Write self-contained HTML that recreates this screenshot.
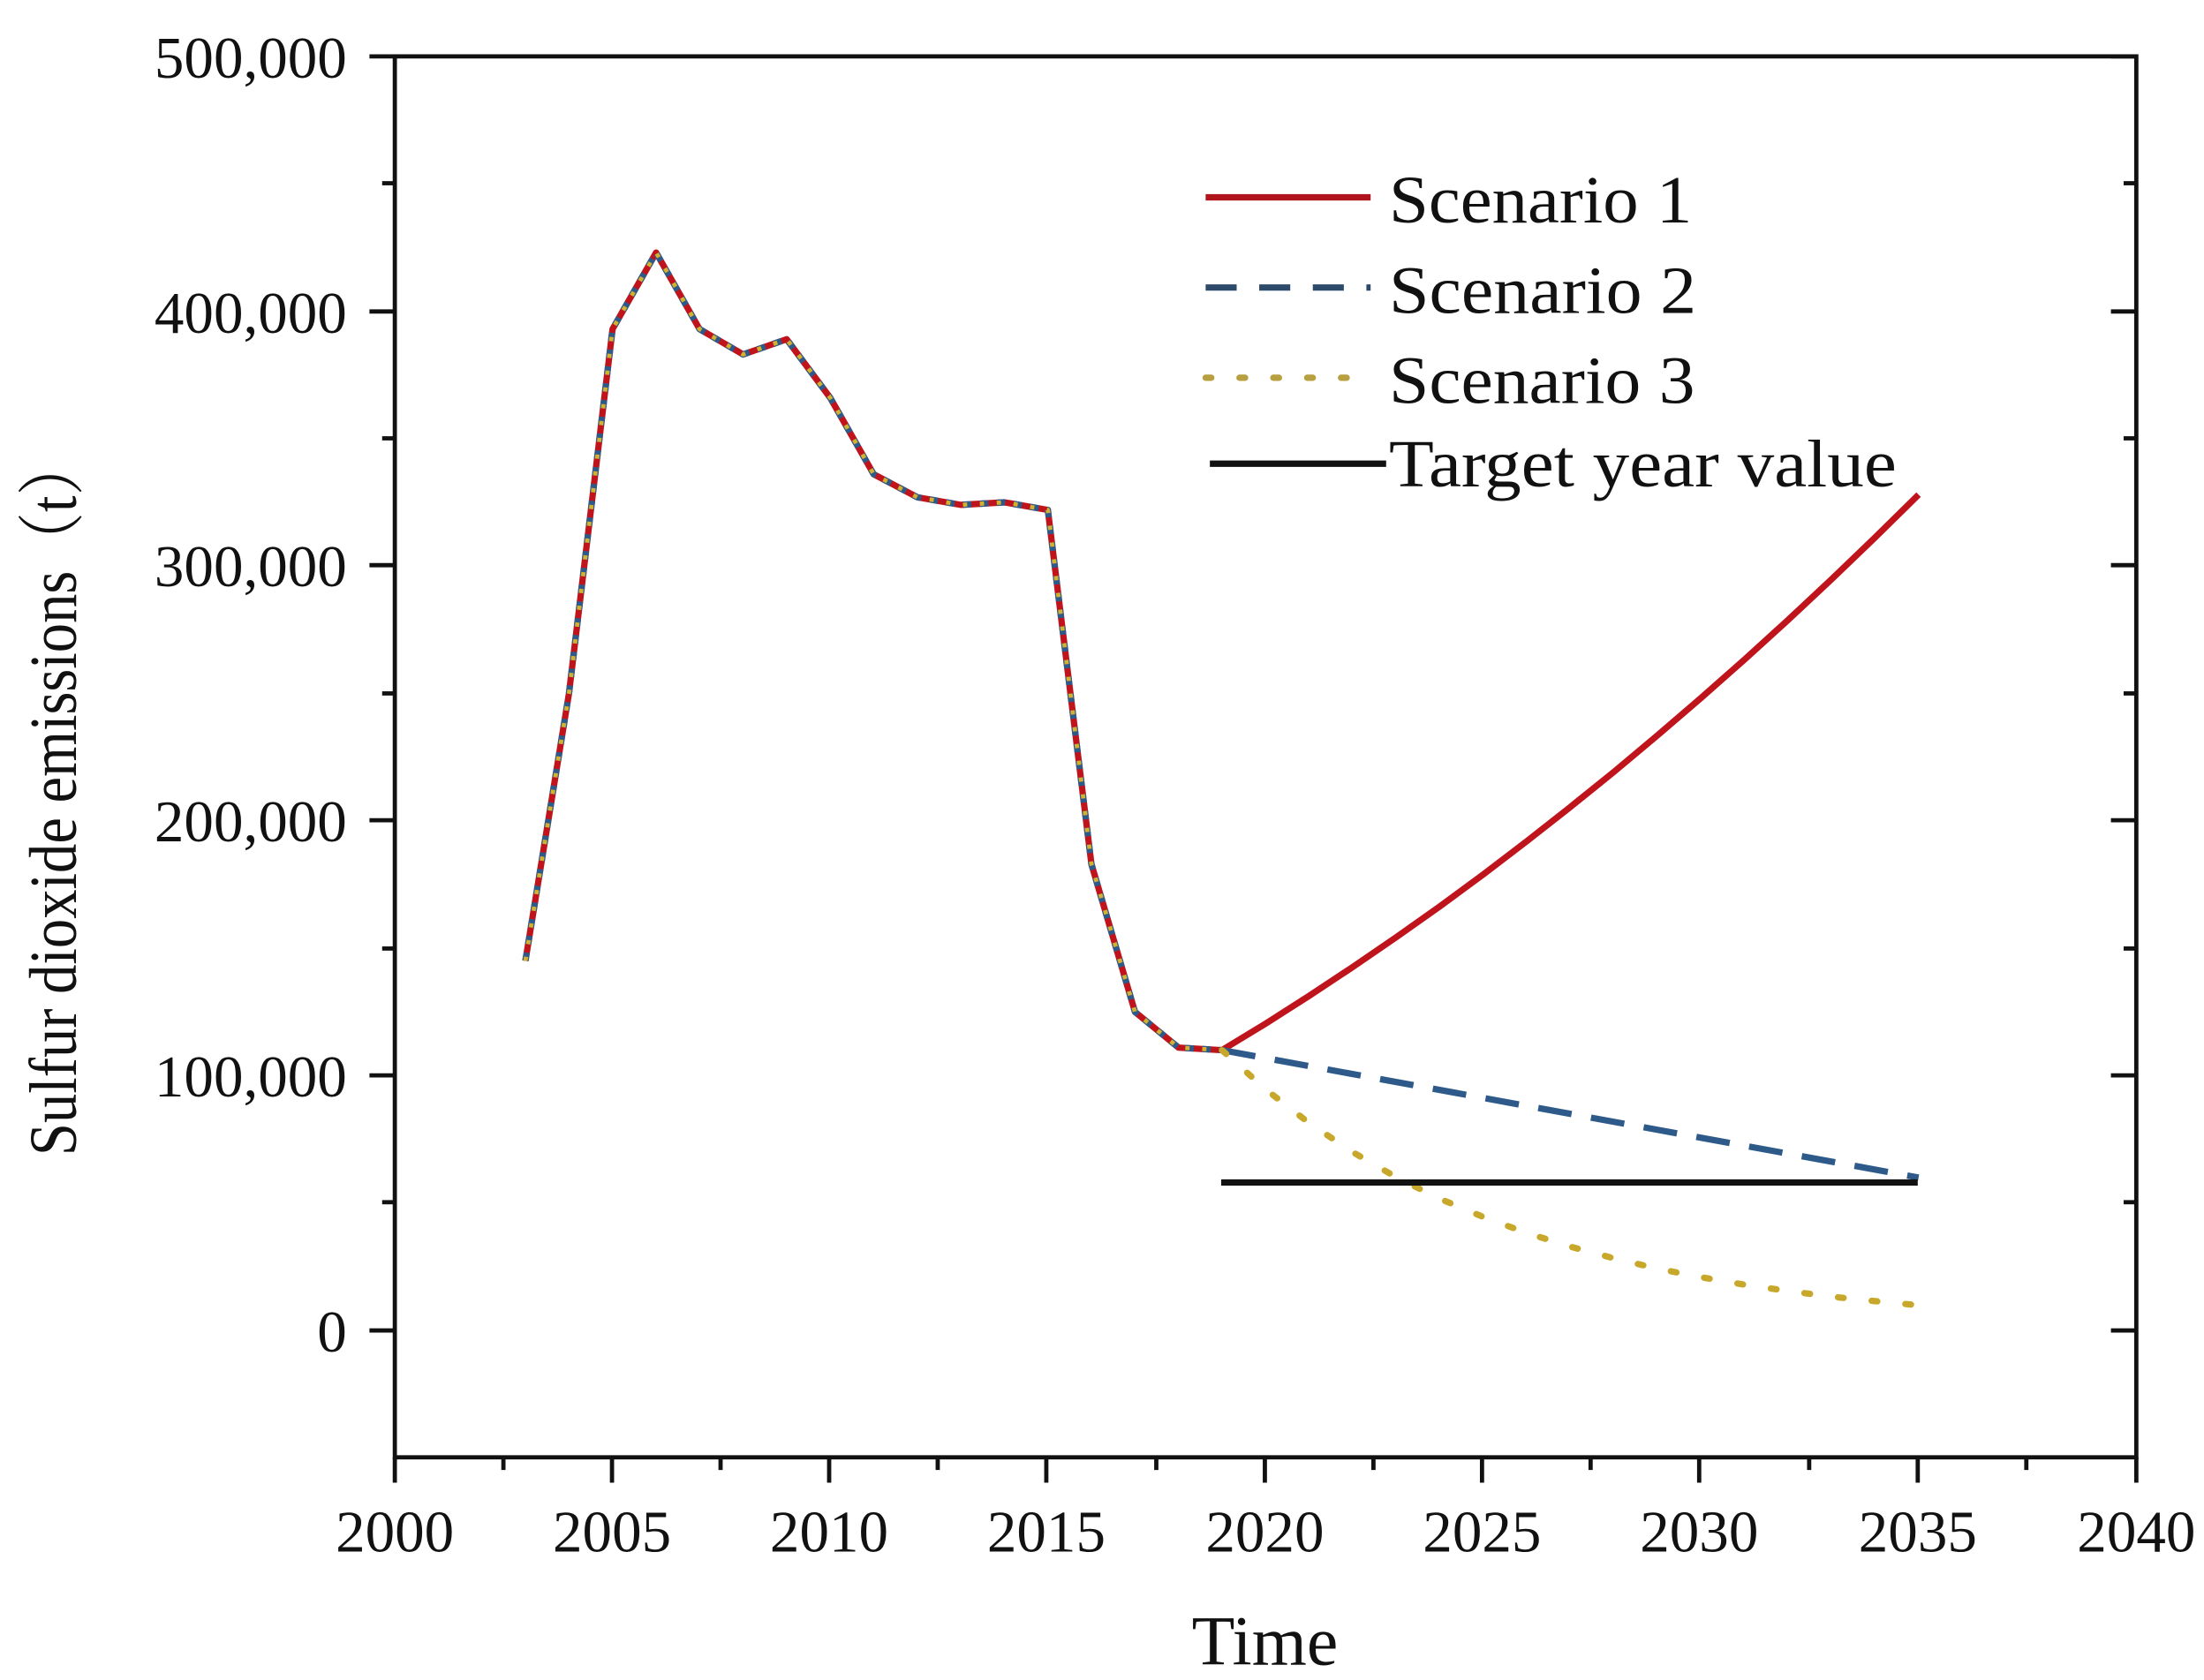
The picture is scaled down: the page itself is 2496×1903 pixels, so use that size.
<!DOCTYPE html>
<html><head><meta charset="utf-8"><style>
html,body{margin:0;padding:0;background:#fff;}
svg{display:block;}
text{font-family:"Liberation Serif","Noto Serif CJK SC",serif;fill:#111;}
</style></head><body>
<svg width="2496" height="1903" viewBox="0 0 1563 1192" preserveAspectRatio="none" xmlns="http://www.w3.org/2000/svg">
<rect width="1563" height="1192" fill="#fff"/>
<rect x="280" y="40" width="1235" height="994" fill="none" stroke="#111" stroke-width="3"/>
<g stroke="#111" stroke-width="3">
<line x1="262" y1="40" x2="280" y2="40"/><line x1="262" y1="221" x2="280" y2="221"/><line x1="262" y1="401" x2="280" y2="401"/><line x1="262" y1="582" x2="280" y2="582"/><line x1="262" y1="763" x2="280" y2="763"/><line x1="262" y1="944" x2="280" y2="944"/>
<line x1="271" y1="130" x2="280" y2="130"/><line x1="271" y1="311" x2="280" y2="311"/><line x1="271" y1="492" x2="280" y2="492"/><line x1="271" y1="673" x2="280" y2="673"/><line x1="271" y1="853" x2="280" y2="853"/>
<line x1="1497" y1="40" x2="1515" y2="40"/><line x1="1497" y1="221" x2="1515" y2="221"/><line x1="1497" y1="401" x2="1515" y2="401"/><line x1="1497" y1="582" x2="1515" y2="582"/><line x1="1497" y1="763" x2="1515" y2="763"/><line x1="1497" y1="944" x2="1515" y2="944"/>
<line x1="1506" y1="130" x2="1515" y2="130"/><line x1="1506" y1="311" x2="1515" y2="311"/><line x1="1506" y1="492" x2="1515" y2="492"/><line x1="1506" y1="673" x2="1515" y2="673"/><line x1="1506" y1="853" x2="1515" y2="853"/>
<line x1="280" y1="1034" x2="280" y2="1052"/><line x1="434" y1="1034" x2="434" y2="1052"/><line x1="588" y1="1034" x2="588" y2="1052"/><line x1="742" y1="1034" x2="742" y2="1052"/><line x1="897" y1="1034" x2="897" y2="1052"/><line x1="1051" y1="1034" x2="1051" y2="1052"/><line x1="1205" y1="1034" x2="1205" y2="1052"/><line x1="1360" y1="1034" x2="1360" y2="1052"/><line x1="1515" y1="1034" x2="1515" y2="1052"/>
<line x1="357" y1="1034" x2="357" y2="1043"/><line x1="511" y1="1034" x2="511" y2="1043"/><line x1="665" y1="1034" x2="665" y2="1043"/><line x1="820" y1="1034" x2="820" y2="1043"/><line x1="974" y1="1034" x2="974" y2="1043"/><line x1="1128" y1="1034" x2="1128" y2="1043"/><line x1="1283" y1="1034" x2="1283" y2="1043"/><line x1="1437" y1="1034" x2="1437" y2="1043"/>
</g>
<g font-size="42" text-anchor="end">
<text x="246" y="55">500,000</text><text x="246" y="236">400,000</text><text x="246" y="416">300,000</text><text x="246" y="597">200,000</text><text x="246" y="778">100,000</text><text x="246" y="959">0</text>
</g>
<g font-size="42" text-anchor="middle">
<text x="280" y="1101">2000</text><text x="434" y="1101">2005</text><text x="588" y="1101">2010</text><text x="742" y="1101">2015</text><text x="897" y="1101">2020</text><text x="1051" y="1101">2025</text><text x="1205" y="1101">2030</text><text x="1360" y="1101">2035</text><text x="1515" y="1101">2040</text>
</g>
<text x="897" y="1181" font-size="50" text-anchor="middle">Time</text>
<text transform="translate(54,565) rotate(-90)" font-size="48" text-anchor="middle" textLength="510" lengthAdjust="spacingAndGlyphs">Sulfur dioxide emissions（t）</text>
<polyline fill="none" stroke="#c0141c" stroke-width="4.5" stroke-linejoin="round" points="372.6,681.8 403.5,492 434.4,233.5 465.3,179.2 496.1,233.5 527,251.5 557.9,240.7 588.8,282.3 619.6,336.5 650.5,352.8 681.4,358.2 712.3,356.4 743.1,361.8 774,613.1 804.9,718 835.8,743.3 866.6,745.1"/>
<polyline fill="none" stroke="#2e5a8a" stroke-width="4.5" stroke-dasharray="6 6" stroke-linejoin="round" points="372.6,681.8 403.5,492 434.4,233.5 465.3,179.2 496.1,233.5 527,251.5 557.9,240.7 588.8,282.3 619.6,336.5 650.5,352.8 681.4,358.2 712.3,356.4 743.1,361.8 774,613.1 804.9,718 835.8,743.3 866.6,745.1"/>
<polyline fill="none" stroke="#d4b030" stroke-width="3" stroke-dasharray="3 9" stroke-linejoin="round" points="372.6,681.8 403.5,492 434.4,233.5 465.3,179.2 496.1,233.5 527,251.5 557.9,240.7 588.8,282.3 619.6,336.5 650.5,352.8 681.4,358.2 712.3,356.4 743.1,361.8 774,613.1 804.9,718 835.8,743.3 866.6,745.1"/>
<polyline fill="none" stroke="#c0141c" stroke-width="4.5" points="866.6,745.1 897.5,726.3 928.4,706.6 959.2,686.2 990.1,665 1021,643.2 1051.9,620.4 1082.7,596.9 1113.6,572.6 1144.5,547.7 1175.4,521.8 1206.2,495.3 1237.1,468 1268,439.9 1298.9,411 1329.7,381.4 1360.6,351"/>
<line x1="866.6" y1="745.1" x2="1360.6" y2="835.5" stroke="#2e5a8a" stroke-width="4.5" stroke-dasharray="24 14"/>
<polyline fill="none" stroke="#c8a82a" stroke-width="4.5" stroke-dasharray="4 20" stroke-linecap="round" points="866.6,745.1 897.5,772.9 928.4,796.8 959.2,817.4 990.1,835.2 1021,850.5 1051.9,863.5 1082.7,874.8 1113.6,884.5 1144.5,892.8 1175.4,900.1 1206.2,906.2 1237.1,911.5 1268,916 1298.9,920 1329.7,923.2 1360.6,926.1"/>
<line x1="866" y1="839" x2="1360" y2="839" stroke="#111" stroke-width="4.5"/>
<line x1="855" y1="140" x2="972" y2="140" stroke="#b0141c" stroke-width="4.5"/>
<line x1="855" y1="204" x2="972" y2="204" stroke="#2e4a6a" stroke-width="4.5" stroke-dasharray="22 16"/>
<line x1="855" y1="268" x2="972" y2="268" stroke="#b8a040" stroke-width="4.5" stroke-dasharray="4 20" stroke-linecap="round"/>
<line x1="858" y1="329" x2="983" y2="329" stroke="#111" stroke-width="4.5"/>
<g font-size="48">
<text x="985" y="158" textLength="215" lengthAdjust="spacingAndGlyphs">Scenario 1</text><text x="985" y="222" textLength="218" lengthAdjust="spacingAndGlyphs">Scenario 2</text><text x="985" y="286" textLength="217" lengthAdjust="spacingAndGlyphs">Scenario 3</text><text x="985" y="345" textLength="360" lengthAdjust="spacingAndGlyphs">Target year value</text>
</g>
</svg>
</body></html>
